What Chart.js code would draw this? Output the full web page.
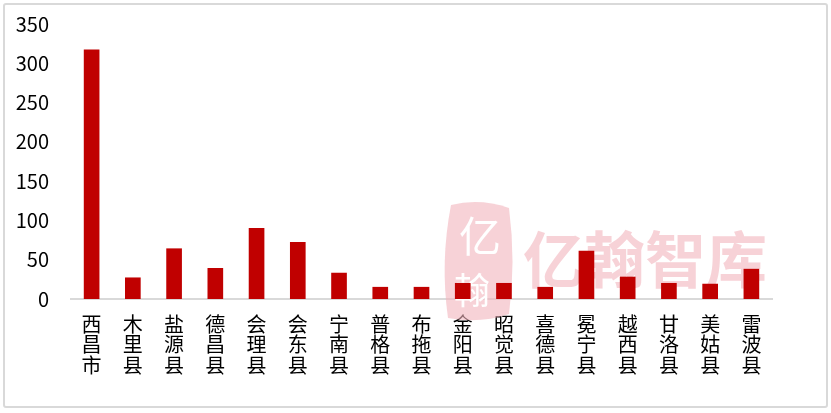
<!DOCTYPE html>
<html>
<head>
<meta charset="utf-8">
<script src="https://cdn.jsdelivr.net/npm/chart.js@4/dist/chart.umd.min.js"></script>
<style>
  html, body { margin: 0; padding: 0; background: #fff; }
  #wrap { position: relative; width: 831px; height: 413px; }
  #frame { position: absolute; left: 3px; top: 3px; width: 821px; height: 401px;
           border: 2px solid #d9d9d9; border-radius: 3px; pointer-events: none; }
  canvas { position: absolute; left: 0; top: 0; }
</style>
</head>
<body>
<div id="wrap">
  <canvas id="c" width="831" height="413"></canvas>
  <div id="frame"></div>
</div>
<script>
const categories = ['西昌市','木里县','盐源县','德昌县','会理县','会东县','宁南县','普格县','布拖县','金阳县','昭觉县','喜德县','冕宁县','越西县','甘洛县','美姑县','雷波县'];
const values = [317, 27, 64, 39, 90, 72, 33, 15, 15, 20, 20, 15, 61, 28, 20, 19, 38];
const yTicks = [0, 50, 100, 150, 200, 250, 300, 350];

const watermark = {
  id: 'watermark',
  beforeDatasetsDraw(chart) {
    const ctx = chart.ctx;
    ctx.save();
    // stamp
    ctx.fillStyle = 'rgba(242,180,188,0.6)';
    ctx.beginPath();
    ctx.moveTo(451, 205);
    ctx.quadraticCurveTo(480, 198, 509, 208);
    ctx.quadraticCurveTo(516, 262, 509, 314);
    ctx.quadraticCurveTo(480, 324, 448, 318);
    ctx.quadraticCurveTo(440, 262, 451, 205);
    ctx.closePath();
    ctx.fill();
    ctx.fillStyle = '#ffffff';
    ctx.font = '42px "Noto Sans CJK SC"';
    ctx.textAlign = 'center';
    ctx.textBaseline = 'middle';
    ctx.fillText('亿', 480, 236);
    ctx.font = '36px "Noto Sans CJK SC"';
    ctx.fillText('翰', 472, 290);
    // text
    ctx.fillStyle = 'rgba(242,180,188,0.6)';
    ctx.font = 'bold 61px "Noto Sans CJK SC"';
    ctx.textAlign = 'left';
    ctx.fillText('亿翰智库', 523, 260);
    ctx.restore();
  }
};

new Chart(document.getElementById('c'), {
  type: 'bar',
  data: {
    labels: categories,
    datasets: [{
      data: values,
      backgroundColor: '#c00000',
      barThickness: 15
    }]
  },
  options: {
    responsive: false,
    animation: false,
    layout: { padding: { top: 24, right: 59, bottom: 0, left: 0 } },
    plugins: { legend: { display: false }, tooltip: { enabled: false } },
    scales: {
      x: {
        grid: { display: false, drawTicks: false },
        border: { display: true, color: '#d9d9d9', width: 2 },
        ticks: {
          color: '#000',
          padding: 15,
          maxRotation: 0,
          autoSkip: false,
          font: { family: '"Noto Sans CJK SC"', size: 20, lineHeight: 1.03 },
          callback: function(v, i) { return categories[i].split(''); }
        },
        afterFit(scale) { scale.height = 114; }
      },
      y: {
        min: 0, max: 350,
        afterBuildTicks(scale) { scale.ticks = yTicks.map(v => ({ value: v })); },
        grid: { display: false, drawTicks: false },
        border: { display: false },
        ticks: {
          color: '#000',
          padding: 22,
          font: { family: '"Noto Sans CJK SC"', size: 20 }
        },
        afterFit(scale) { scale.width = 71; scale.paddingTop = 0; scale.paddingBottom = 0; }
      }
    }
  },
  plugins: [watermark]
});
</script>
</body>
</html>
